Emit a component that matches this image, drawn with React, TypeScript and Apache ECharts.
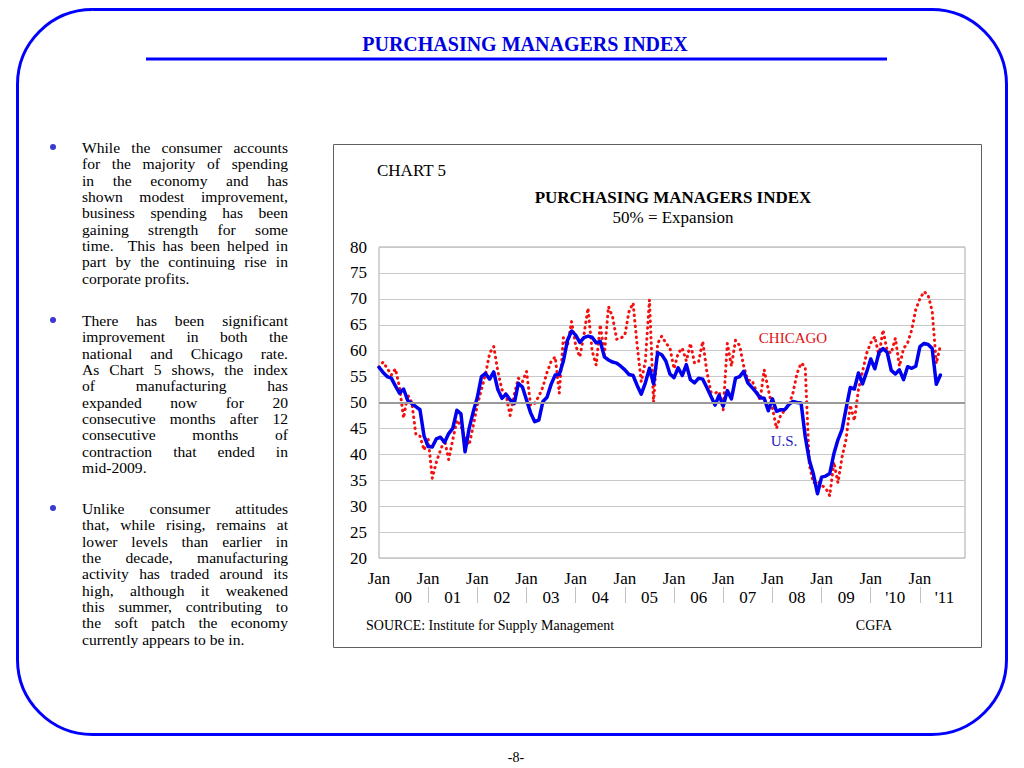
import React, { useEffect, useRef } from "react";
import * as echarts from "echarts";

// ---------- data ----------
const YEARS = [2000, 2001, 2002, 2003, 2004, 2005, 2006, 2007, 2008, 2009, 2010, 2011];
const MONTH_NAMES = ["Jan", "Feb", "Mar", "Apr", "May", "Jun", "Jul", "Aug", "Sep", "Oct", "Nov", "Dec"];
const YEAR_LABELS = ["00", "01", "02", "03", "04", "05", "06", "07", "08", "09", "'10", "'11"];
const TOP_LABEL = "Jan";

const US_PMI = [
  56.8, 55.8, 55.0, 54.7, 53.2, 51.8, 52.6, 50.4, 49.8, 49.2, 48.6, 43.5,
  41.5, 41.4, 43.0, 43.3, 42.3, 44.0, 45.0, 48.5, 47.8, 40.5, 45.0, 48.2,
  51.0, 55.0, 55.6, 54.5, 55.9, 52.5, 50.8, 51.6, 50.5, 49.8, 53.7, 53.0,
  50.5, 48.0, 46.3, 46.6, 50.2, 51.0, 53.5, 55.3, 55.4, 58.0, 62.0, 63.8,
  63.0, 61.6, 62.5, 62.8, 62.6, 61.5, 61.8, 58.8, 58.2, 57.8, 57.6, 57.0,
  56.3, 55.4, 55.2, 53.3, 51.6, 53.8, 56.6, 53.6, 59.6, 59.2, 58.0, 55.5,
  54.8, 56.7, 55.2, 57.3, 54.4, 53.8, 54.7, 54.5, 52.9, 51.2, 49.5, 51.4,
  49.3, 52.3, 50.7, 54.7, 55.0, 56.0, 53.8, 52.9, 52.0, 50.9, 50.8, 48.4,
  50.7, 48.3, 48.6, 48.6, 49.6, 50.2, 50.0, 49.9, 43.5, 38.9, 36.2, 32.4,
  35.6, 35.8, 36.3, 40.1, 42.8, 44.8, 48.9, 52.9, 52.6, 55.7, 53.6, 55.9,
  58.4, 56.5, 59.6, 60.4, 59.7, 56.2, 55.5, 56.3, 54.4, 56.9, 56.6, 57.0,
  60.8, 61.4, 61.2, 60.4, 53.5, 55.3,
];

const CHICAGO_PMI = [
  56.8, 57.8, 56.6, 55.3, 56.5, 53.0, 47.0, 51.5, 50.0, 43.8, 43.5, 40.8,
  43.0, 35.4, 38.5, 40.8, 42.8, 39.0, 42.8, 46.6, 45.5, 43.0, 41.8, 45.5,
  49.5, 52.5, 55.5, 59.5, 60.8, 56.0, 52.5, 51.5, 47.5, 51.5, 54.7, 54.0,
  56.0, 49.5, 49.8, 51.2, 53.0, 55.8, 57.9, 58.8, 51.8, 62.5, 61.0, 65.6,
  61.0, 58.8, 63.0, 68.2, 60.0, 57.2, 65.0, 59.2, 68.5, 66.5, 62.2, 62.4,
  63.0, 67.5, 69.2, 61.0, 54.0, 58.0, 69.8, 50.0, 61.4, 62.8, 61.5, 60.5,
  56.5, 59.5, 60.5, 58.0, 61.4, 57.6, 57.9, 61.8, 56.0, 52.0, 51.8, 52.1,
  48.6, 61.4, 57.0, 62.0, 61.0, 57.0, 54.3, 54.3, 52.4, 50.5, 56.3, 52.5,
  49.0, 45.0, 47.5, 48.5, 49.5, 51.8, 55.6, 57.6, 56.9, 38.0, 34.5, 34.8,
  34.0, 33.5, 32.0, 38.5, 34.5, 39.5, 43.0, 49.5, 46.5, 52.5, 56.0, 59.5,
  61.5, 62.7, 59.0, 64.0, 60.0, 59.5, 62.4, 57.0, 60.4, 61.5, 64.0, 68.0,
  70.0, 71.4, 70.7, 67.6, 57.5, 61.0,
];

const Y_MIN = 20;
const Y_MAX = 80;
const Y_STEP = 5;
const EXPANSION = 50;

const CATEGORIES = YEARS.flatMap((y) => MONTH_NAMES.map((m) => `${m} ${String(y).slice(2)}`));

const PARAGRAPHS: string[][] = [
  [
    "While the consumer accounts",
    "for the majority of spending",
    "in the economy and has",
    "shown modest improvement,",
    "business spending has been",
    "gaining strength for some",
    "time.  This has been helped in",
    "part by the continuing rise in",
    "corporate profits.",
  ],
  [
    "There has been significant",
    "improvement in both the",
    "national and Chicago rate.",
    "As Chart 5 shows, the index",
    "of manufacturing has",
    "expanded now for 20",
    "consecutive months after 12",
    "consecutive months of",
    "contraction that ended in",
    "mid-2009.",
  ],
  [
    "Unlike consumer attitudes",
    "that, while rising, remains at",
    "lower levels than earlier in",
    "the decade, manufacturing",
    "activity has traded around its",
    "high, although it weakened",
    "this summer, contributing to",
    "the soft patch the economy",
    "currently appears to be in.",
  ],
];
const PARA_TOPS = [140, 313, 501];
const LINE_H = 16.35;

const SERIF = '"Liberation Serif", "Times New Roman", serif';

function txt(x: number, y: number, text: string, font: string, fill: string, align = "center") {
  return {
    type: "text",
    x,
    y,
    silent: true,
    style: {
      text,
      font,
      fill,
      align,
      verticalAlign: "middle",
      textAlign: align,
      textVerticalAlign: "middle",
    },
  };
}

export default function App() {
  const ref = useRef<HTMLDivElement>(null);

  useEffect(() => {
    if (!ref.current) return;
    const chart = echarts.init(ref.current, undefined, { renderer: "svg" });
    const option: any = {
      animation: false,
      grid: {
        left: 379,
        top: 247,
        width: 586,
        height: 311,
        show: true,
        borderColor: "#a8a8a8",
        borderWidth: 1,
        backgroundColor: "transparent",
      },
      xAxis: [
        {
          type: "category",
          data: CATEGORIES,
          boundaryGap: false,
          position: "bottom",
          axisLine: { show: false },
          axisTick: { show: false },
          splitLine: { show: false },
          axisLabel: {
            interval: (i: number) => i % 12 === 0,
            formatter: () => TOP_LABEL,
            fontFamily: SERIF,
            fontSize: 17,
            color: "#000",
            margin: 12,
          },
        },
        {
          type: "category",
          data: CATEGORIES,
          boundaryGap: false,
          position: "bottom",
          offset: 29,
          axisLine: { show: false },
          axisTick: {
            show: true,
            interval: (i: number) => i % 12 === 0 && i > 0,
            length: 16,
            lineStyle: { color: "#c0c0c0", width: 1 },
          },
          splitLine: { show: false },
          axisLabel: {
            interval: (i: number) => i % 12 === 6,
            formatter: (_v: string, i: number) => YEAR_LABELS[Math.floor(i / 12)],
            fontFamily: SERIF,
            fontSize: 17,
            color: "#000",
            margin: 2,
          },
        },
      ],
      yAxis: {
        type: "value",
        min: Y_MIN,
        max: Y_MAX,
        interval: Y_STEP,
        axisLine: { show: false },
        axisTick: { show: false },
        splitLine: { show: true, lineStyle: { color: "#c8c8c8", width: 1 } },
        axisLabel: { fontFamily: SERIF, fontSize: 17, color: "#000", margin: 12 },
      },
      series: [
        {
          name: "ref",
          type: "line",
          data: CATEGORIES.map(() => null),
          z: 1,
          symbol: "none",
          silent: true,
          markLine: {
            silent: true,
            symbol: "none",
            label: { show: false },
            lineStyle: { color: "#9a9a9a", width: 2, type: "solid" },
            data: [{ yAxis: EXPANSION }],
          },
        },
        {
          name: "CHICAGO",
          type: "line",
          data: CHICAGO_PMI,
          z: 2,
          symbol: "none",
          lineStyle: { color: "#f51010", width: 3, type: [0.5, 5], cap: "round", join: "round" },
        },
        {
          name: "U.S.",
          type: "line",
          data: US_PMI,
          z: 3,
          symbol: "none",
          lineStyle: { color: "#0000f0", width: 3.5, join: "round", cap: "round" },
        },
      ],
      graphic: [
        {
          type: "rect",
          silent: true,
          shape: { x: 17.5, y: 9.5, width: 989, height: 725, r: 75 },
          style: { fill: "none", stroke: "#0000ff", lineWidth: 3 },
        },
        txt(525, 44, "PURCHASING MANAGERS INDEX", `bold 20px ${SERIF}`, "#0000e0"),
        {
          type: "line",
          silent: true,
          shape: { x1: 146, y1: 59, x2: 887, y2: 59 },
          style: { stroke: "#0000ff", lineWidth: 3 },
        },
        {
          type: "rect",
          silent: true,
          shape: { x: 333.5, y: 144.5, width: 648, height: 503 },
          style: { fill: "none", stroke: "#606060", lineWidth: 1 },
        },
        txt(377, 170, "CHART 5", `17px ${SERIF}`, "#000", "left"),
        txt(673, 197, "PURCHASING MANAGERS INDEX", `bold 17px ${SERIF}`, "#000"),
        txt(673, 217, "50% = Expansion", `17px ${SERIF}`, "#000"),
        txt(793, 338, "CHICAGO", `15px ${SERIF}`, "#e01010"),
        txt(784, 441, "U.S.", `15px ${SERIF}`, "#1818c8"),
        txt(366, 625, "SOURCE: Institute for Supply Management", `14px ${SERIF}`, "#000", "left"),
        txt(874, 625, "CGFA", `14px ${SERIF}`, "#000"),
        txt(516, 757, "-8-", `14px ${SERIF}`, "#000"),
      ],
    };
    chart.setOption(option);
    return () => chart.dispose();
  }, []);

  return (
    <>
      <div
        ref={ref}
        style={{ position: "absolute", left: 0, top: 0, width: 1024, height: 768, background: "#fff" }}
      />
      <div style={{ position: "absolute", left: 0, top: 0, width: 1024, height: 768, pointerEvents: "none" }}>
        {PARAGRAPHS.map((lines, p) => (
          <React.Fragment key={p}>
            <div
              style={{
                position: "absolute",
                left: 50,
                top: PARA_TOPS[p] + 4,
                width: 6,
                height: 6,
                borderRadius: 3,
                background: "#3a3ad0",
              }}
            />
            <div
              style={{
                position: "absolute",
                left: 82,
                top: PARA_TOPS[p],
                width: 206,
                fontFamily: SERIF,
                fontSize: 15.6,
                lineHeight: `${LINE_H}px`,
                color: "#000",
              }}
            >
              {lines.map((line, i) => (
                <div
                  key={i}
                  style={{
                    whiteSpace: "pre",
                    textAlign: i === lines.length - 1 ? "left" : "justify",
                    textAlignLast: i === lines.length - 1 ? "left" : "justify",
                    height: `${LINE_H}px`,
                  }}
                >
                  {line}
                </div>
              ))}
            </div>
          </React.Fragment>
        ))}
      </div>
    </>
  );
}
